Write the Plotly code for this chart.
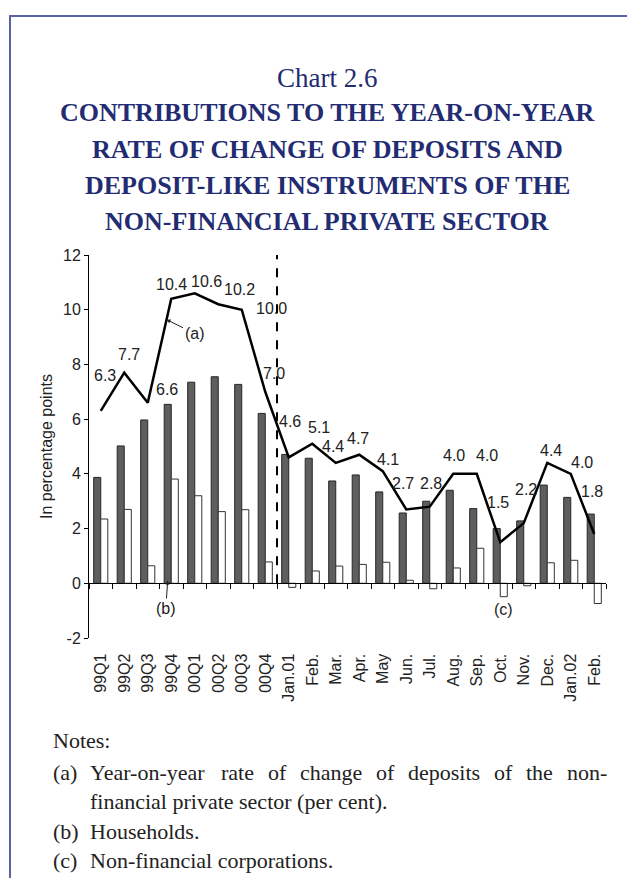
import plotly.graph_objects as go

# Periods: quarterly for 1999-2000, then monthly from January 2001
categories = ["99Q1", "99Q2", "99Q3", "99Q4", "00Q1", "00Q2", "00Q3", "00Q4",
              "Jan.01", "Feb.", "Mar.", "Apr.", "May", "Jun.", "Jul.", "Aug.",
              "Sep.", "Oct.", "Nov.", "Dec.", "Jan.02", "Feb."]
n_quarterly = 8

# Contributions in percentage points
households = [3.87, 5.02, 5.97, 6.54, 7.35, 7.55, 7.27, 6.21, 4.71, 4.57, 3.74,
              3.96, 3.34, 2.57, 3.00, 3.40, 2.73, 2.00, 2.28, 3.59, 3.14, 2.53]
corporations = [2.35, 2.70, 0.64, 3.81, 3.20, 2.62, 2.69, 0.78, -0.15, 0.45, 0.63,
                0.69, 0.77, 0.11, -0.20, 0.56, 1.28, -0.49, -0.09, 0.75, 0.84, -0.74]
# Year-on-year rate of change of deposits (per cent)
total_rate = [6.3, 7.7, 6.6, 10.4, 10.6, 10.2, 10.0, 7.0, 4.6, 5.1, 4.4, 4.7,
              4.1, 2.7, 2.8, 4.0, 4.0, 1.5, 2.2, 4.4, 4.0, 1.8]

y_ticks = [-2, 0, 2, 4, 6, 8, 10, 12]

# pixel nudges of the value labels relative to their points
label_dx = [4, 5, 19, 0, 12, 21, 30, 9, 1, 7, -3, -1, 5, -3, 1, 1, 10, -2, 2, 4, 11, -2]
label_dy = [35, 18, 13, 14, 12, 15, 1, 18, 36, 16, 16, 16, 12, 26, 23, 18, 18, 40, 34, 12, 11, 43]

title_main = "Chart 2.6"
title_lines = ["CONTRIBUTIONS TO THE YEAR-ON-YEAR",
               "RATE OF CHANGE OF DEPOSITS AND",
               "DEPOSIT-LIKE INSTRUMENTS OF THE",
               "NON-FINANCIAL PRIVATE SECTOR"]
notes_head = "Notes:"
# (tag, text, justified?)
notes = [("(a)", "Year-on-year rate of change of deposits of the non-", True),
         ("", "financial private sector (per cent).", False),
         ("(b)", "Households.", False),
         ("(c)", "Non-financial corporations.", False)]

W, H = 627, 878
ML, MR, MT, MB = 89, 21, 255, 240
PW, PH = W - ML - MR, H - MT - MB
Y_MIN, Y_MAX = -2, 12

NAVY = "#232c72"
TXT = "#222222"
SANS = "Arial, Liberation Sans, sans-serif"
SERIF = "Liberation Serif, Times New Roman, serif"
NOTE_SIZE = 22
NOTE_LEFT, NOTE_TEXT, NOTE_RIGHT = 51, 88, 605

n_cat = len(categories)
x_pos = list(range(n_cat))
# ticks sit on the category boundaries; each label is shifted half a slot to its centre
x_bounds = [i - 0.5 for i in range(n_cat + 1)]
bound_text = categories + [""]
half_slot_px = int(round(PW / n_cat / 2))

# Times-compatible advance widths (1/1000 em) used to justify a note line
_TIMES_W = {"a": 444, "b": 500, "c": 444, "d": 500, "e": 444, "f": 333, "g": 500,
            "h": 500, "i": 278, "j": 278, "k": 500, "l": 278, "m": 778, "n": 500,
            "o": 500, "p": 500, "q": 500, "r": 333, "s": 389, "t": 278, "u": 500,
            "v": 500, "w": 722, "x": 500, "y": 500, "z": 444, "-": 333, "(": 333,
            ")": 333, ".": 250, "Y": 722, " ": 250}


def text_width(s, size):
    return sum(_TIMES_W.get(ch, 500) for ch in s) * size / 1000.0


def px_x(px):
    return (px - ML) / PW


def px_y(py):
    return (H - MB - py) / PH


def paper_text(px, py, text, font, xanchor="center", **kw):
    return dict(x=px_x(px), y=px_y(py), xref="paper", yref="paper", text=text,
                showarrow=False, xanchor=xanchor, yanchor="middle", font=font, **kw)


fig = go.Figure()
fig.add_bar(x=x_pos, y=households, name="Households",
            marker=dict(color="#5e5e5e", line=dict(color="#262626", width=1)))
fig.add_bar(x=x_pos, y=corporations, name="Non-financial corporations",
            marker=dict(color="white", line=dict(color="#333333", width=1)))
fig.add_scatter(x=x_pos, y=total_rate, mode="lines", name="Total",
                line=dict(color="black", width=2.5))

sans16 = dict(family=SANS, size=16, color=TXT)
annotations = []
for i, v in enumerate(total_rate):
    annotations.append(dict(x=x_pos[i], y=v, xref="x", yref="y", text=f"{v:.1f}",
                            showarrow=False, xanchor="center", yanchor="middle",
                            xshift=label_dx[i], yshift=label_dy[i], font=sans16))

# (a) arrow pointing at the rising segment of the line
t = 0.8
ax_x = 2 + t
ax_y = total_rate[2] + t * (total_rate[3] - total_rate[2])
annotations.append(dict(x=ax_x, y=ax_y, xref="x", yref="y", text="(a)",
                        showarrow=True, arrowhead=2, arrowsize=0.8, arrowwidth=1,
                        arrowcolor=TXT, ax=28, ay=14, font=sans16))
# (b) arrow pointing at the household bar of 99Q4
annotations.append(dict(x=3 - 0.15, y=0.1, xref="x", yref="y", text="(b)",
                        showarrow=True, arrowhead=2, arrowsize=0.8, arrowwidth=1,
                        arrowcolor=TXT, ax=-2, ay=28, font=sans16))
# (c) label beneath the October corporations bar
annotations.append(dict(x=17, y=-0.94, xref="x", yref="y", text="(c)", xshift=3,
                        showarrow=False, xanchor="center", yanchor="middle", font=sans16))

# y-axis title
annotations.append(paper_text(46, 447, "In percentage points", sans16, textangle=-90))

# titles
annotations.append(paper_text(327, 78, title_main, dict(family=SERIF, size=27, color=NAVY)))
for k, line in enumerate(title_lines):
    annotations.append(paper_text(327, 113 + 36 * k, f"<b>{line}</b>",
                                  dict(family=SERIF, size=26, color=NAVY)))

# notes
serif_note = dict(family=SERIF, size=NOTE_SIZE, color=TXT)
annotations.append(paper_text(NOTE_LEFT, 740, notes_head, serif_note, xanchor="left"))
for k, (tag, txt, justify) in enumerate(notes):
    yy = 772 + 29.5 * k
    if tag:
        annotations.append(paper_text(NOTE_LEFT, yy, tag, serif_note, xanchor="left"))
    if justify:
        words = txt.split(" ")
        widths = [text_width(w, NOTE_SIZE) for w in words]
        gap = (NOTE_RIGHT - NOTE_TEXT - sum(widths)) / (len(words) - 1)
        xcur = NOTE_TEXT
        for w, wd in zip(words, widths):
            annotations.append(paper_text(xcur, yy, w, serif_note, xanchor="left"))
            xcur += wd + gap
    else:
        annotations.append(paper_text(NOTE_TEXT, yy, txt, serif_note, xanchor="left"))

shapes = [
    # break between quarterly and monthly data
    dict(type="line", xref="x", yref="y", x0=n_quarterly - 0.5, x1=n_quarterly - 0.5,
         y0=0, y1=Y_MAX, line=dict(color="black", width=2, dash="dash")),
    # page frame
    dict(type="rect", xref="paper", yref="paper", x0=px_x(10), x1=px_x(660),
         y0=px_y(920), y1=px_y(16), line=dict(color="#5a62a6", width=2),
         fillcolor="rgba(0,0,0,0)", layer="below"),
]

zero_pos = (0 - Y_MIN) / (Y_MAX - Y_MIN)

fig.update_layout(
    width=W, height=H,
    margin=dict(l=ML, r=MR, t=MT, b=MB, pad=0),
    paper_bgcolor="white", plot_bgcolor="white",
    barmode="group", bargap=0.4, bargroupgap=0,
    showlegend=False,
    annotations=annotations,
    shapes=shapes,
    xaxis=dict(range=[-0.5, n_cat - 0.5], anchor="free", position=zero_pos,
               showline=True, linecolor="black", linewidth=1,
               tickmode="array", tickvals=x_bounds, ticktext=bound_text,
               ticks="outside", ticklen=5, tickcolor="black", tickwidth=1,
               tickangle=-90, ticklabelstandoff=58, ticklabelshift=half_slot_px,
               tickfont=sans16, showgrid=False, zeroline=False),
    yaxis=dict(range=[Y_MIN, Y_MAX],
               tickmode="array", tickvals=y_ticks, ticktext=[str(v) for v in y_ticks],
               showline=True, linecolor="black", linewidth=1,
               ticks="outside", ticklen=4, tickcolor="black",
               tickfont=dict(family=SANS, size=16, color=TXT),
               showgrid=False, zeroline=False),
)

fig.write_html("out.html")
